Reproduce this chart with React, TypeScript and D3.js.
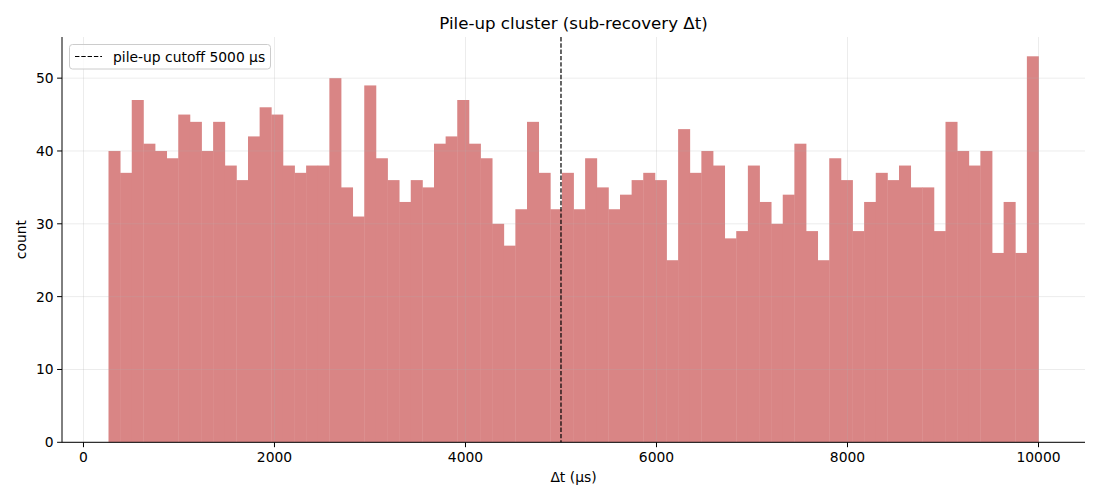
import React from "react";
import * as d3 from "d3";

const counts: number[] = [
  40, 37, 47, 41, 40, 39, 45, 44, 40, 44,
  38, 36, 42, 46, 45, 38, 37, 38, 38, 50,
  35, 31, 49, 39, 36, 33, 36, 35, 41, 42,
  47, 41, 39, 30, 27, 32, 44, 37, 32, 37,
  32, 39, 35, 32, 34, 36, 37, 36, 25, 43,
  37, 40, 38, 28, 29, 38, 33, 30, 34, 41,
  29, 25, 39, 36, 29, 33, 37, 36, 38, 35,
  35, 29, 44, 40, 38, 40, 26, 33, 26, 53,
];
const binStart = 262;
const binEnd = 10000;
const cutoff = 5000;
const xTicks: number[] = [0, 2000, 4000, 6000, 8000, 10000];
const yTicks: number[] = [0, 10, 20, 30, 40, 50];
const title = "Pile-up cluster (sub-recovery Δt)";
const xLabel = "Δt (µs)";
const yLabel = "count";
const legendLabel = "pile-up cutoff 5000 µs";

const W = 1100;
const H = 500;
const M = { left: 62, right: 1085, top: 37, bottom: 442.3 };

export default function App() {
  const n = counts.length;
  const bw = (binEnd - binStart) / n;
  const span = binEnd - binStart;
  const x = d3
    .scaleLinear()
    .domain([binStart - 0.05 * span, binEnd + 0.05 * span])
    .range([M.left, M.right]);
  const yMax = (d3.max(counts) as number) * 1.05;
  const y = d3.scaleLinear().domain([0, yMax]).range([M.bottom, M.top]);
  const font = "'DejaVu Sans', sans-serif";
  const cx = (M.left + M.right) / 2;
  const fs = 13.89;

  return (
    <svg
      width={W}
      height={H}
      style={{ position: "absolute", left: 0, top: 0, background: "#fff" }}
      fontFamily={font}
    >
      {/* bars */}
      {counts.map((c, i) => {
        const x0 = x(binStart + i * bw);
        const x1 = x(binStart + (i + 1) * bw);
        return (
          <rect
            key={i}
            x={x0}
            y={y(c)}
            width={x1 - x0 + 0.4}
            height={y(0) - y(c)}
            fill="#d98585"
          />
        );
      })}
      {/* grid */}
      {xTicks.map((t) => (
        <line
          key={"gx" + t}
          x1={x(t)}
          x2={x(t)}
          y1={M.top}
          y2={M.bottom}
          stroke="#b0b0b0"
          strokeOpacity={0.3}
          strokeWidth={0.8}
        />
      ))}
      {yTicks.map((t) => (
        <line
          key={"gy" + t}
          x1={M.left}
          x2={M.right}
          y1={y(t)}
          y2={y(t)}
          stroke="#b0b0b0"
          strokeOpacity={0.3}
          strokeWidth={0.8}
        />
      ))}
      {/* cutoff line */}
      <line
        x1={x(cutoff)}
        x2={x(cutoff)}
        y1={M.top}
        y2={M.bottom}
        stroke="#000"
        strokeWidth={1.2}
        strokeDasharray="4.4,1.9"
      />
      {/* spines */}
      <line x1={M.left} x2={M.left} y1={M.top} y2={M.bottom} stroke="#000" strokeWidth={1} />
      <line x1={M.left} x2={M.right} y1={M.bottom} y2={M.bottom} stroke="#000" strokeWidth={1} />
      {/* x ticks */}
      {xTicks.map((t) => (
        <g key={"xt" + t}>
          <line x1={x(t)} x2={x(t)} y1={M.bottom} y2={M.bottom + 4.9} stroke="#000" strokeWidth={1} />
          <text x={x(t)} y={M.bottom + 20} textAnchor="middle" fontSize={fs} fill="#000">
            {t}
          </text>
        </g>
      ))}
      {/* y ticks */}
      {yTicks.map((t) => (
        <g key={"yt" + t}>
          <line x1={M.left - 4.9} x2={M.left} y1={y(t)} y2={y(t)} stroke="#000" strokeWidth={1} />
          <text x={M.left - 8.3} y={y(t) + 5} textAnchor="end" fontSize={fs} fill="#000">
            {t}
          </text>
        </g>
      ))}
      {/* labels */}
      <text x={cx} y={482} textAnchor="middle" fontSize={fs} fill="#000">
        {xLabel}
      </text>
      <text
        transform={`translate(26, ${(M.top + M.bottom) / 2}) rotate(-90)`}
        textAnchor="middle"
        fontSize={fs}
        fill="#000"
      >
        {yLabel}
      </text>
      <text x={cx} y={29} textAnchor="middle" fontSize={16.67} fill="#000">
        {title}
      </text>
      {/* legend */}
      <g>
        <rect
          x={69.5}
          y={44.5}
          width={201}
          height={24.5}
          rx={3}
          fill="#fff"
          fillOpacity={0.8}
          stroke="#cccccc"
          strokeWidth={1}
        />
        <line
          x1={75}
          x2={102}
          y1={56.5}
          y2={56.5}
          stroke="#000"
          strokeWidth={1.2}
          strokeDasharray="4.4,1.9"
        />
        <text x={113} y={61.5} fontSize={fs} fill="#000">
          {legendLabel}
        </text>
      </g>
    </svg>
  );
}
